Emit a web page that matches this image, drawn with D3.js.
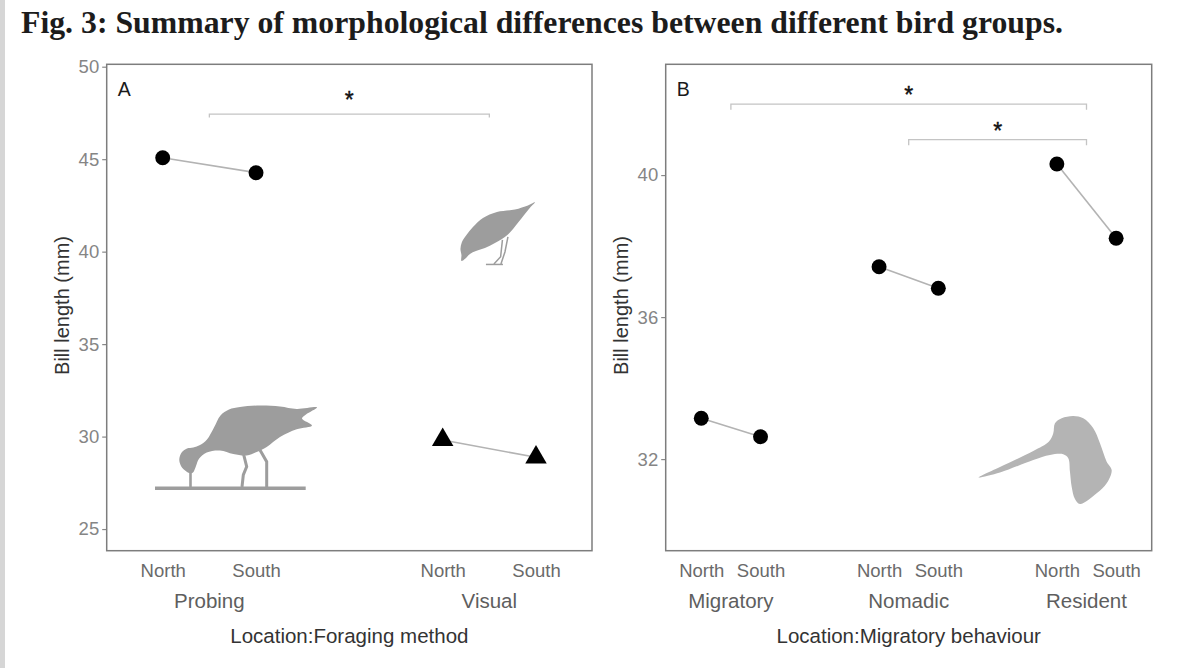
<!DOCTYPE html>
<html><head><meta charset="utf-8">
<script src="https://cdn.jsdelivr.net/npm/d3@7"></script>
<style>body{margin:0;background:#fff;} svg{display:block;}</style>
</head><body>
<svg id="chart" width="1200" height="668"></svg>
<script>
// ---------------- data ----------------
const titleText = "Fig. 3: Summary of morphological differences between different bird groups.";
const locations = ["North", "South"];

const foragingGroups = ["Probing", "Visual"];
const probingValues = [45.08, 44.27];
const visualValues = [29.82, 28.88];
const yTicksA = [25, 30, 35, 40, 45, 50];

const migratoryGroups = ["Migratory", "Nomadic", "Resident"];
const migratoryValues = [33.15, 32.63];
const nomadicValues = [37.42, 36.81];
const residentValues = [40.31, 38.22];
const yTicksB = [32, 36, 40];

// significance brackets: group index from -> to, bracket level, star level, tip drop
const sigA = [{from: 0, to: 1, level: 47.44, star: 48.47, tip: 0.18}];
const sigB = [
  {from: 0, to: 2, level: 42.0, star: 42.4, tip: 0.16},
  {from: 1, to: 2, level: 41.0, star: 41.38, tip: 0.16}
];

// ---------------- drawing ----------------
const svg = d3.select("#chart");
svg.append("rect").attr("x", 0).attr("y", 0).attr("width", 1200).attr("height", 668).attr("fill", "#fff");
svg.append("rect").attr("x", 0).attr("y", 0).attr("width", 5).attr("height", 668).attr("fill", "#d6d6d6");

svg.append("text")
  .attr("x", 21).attr("y", 33)
  .attr("font-family", "'Liberation Serif', 'DejaVu Serif', serif")
  .attr("font-weight", "bold").attr("font-size", 31)
  .attr("fill", "#1c1c1c")
  .attr("textLength", 1042).attr("lengthAdjust", "spacingAndGlyphs")
  .text(titleText);

const FONT = "'Liberation Sans', Arial, sans-serif";
const pos = (gi, li) => gi * 3 + li + 1;

function drawPanel(cfg) {
  const x = d3.scaleLinear().domain([0.4, cfg.groups.length * 3 - 0.4]).range([cfg.left, cfg.right]);
  const y = d3.scaleLinear().domain(cfg.yDomain).range([cfg.bottom, cfg.top]);
  const g = svg.append("g");

  // y axis ticks & labels
  const yAxis = d3.axisLeft(y).tickValues(cfg.yTicks).tickSize(4.5).tickPadding(3).tickFormat(d3.format("d"));
  const ya = g.append("g").attr("transform", `translate(${cfg.left},0)`).call(yAxis);
  ya.select(".domain").remove();
  ya.selectAll(".tick line").attr("stroke", "#888").attr("stroke-width", 1.2);
  ya.selectAll(".tick text").attr("font-family", FONT).attr("font-size", 18.5).attr("fill", "#858585");

  // x tick labels (locations)
  const ticks = [];
  cfg.groups.forEach((gr, gi) => locations.forEach((loc, li) => ticks.push({p: pos(gi, li), loc})));
  const xAxis = d3.axisBottom(x).tickValues(ticks.map(t => t.p)).tickSize(0).tickPadding(10)
    .tickFormat((d, i) => ticks[i].loc);
  const xa = g.append("g").attr("transform", `translate(0,${cfg.bottom})`).call(xAxis);
  xa.select(".domain").remove();
  xa.selectAll(".tick text").attr("font-family", FONT).attr("font-size", 18.5).attr("fill", "#6a6a6a")
    .attr("dy", null).attr("y", 26);

  // group labels
  g.selectAll(".grp").data(cfg.groups).enter().append("text")
    .attr("x", (d, i) => x(pos(i, 0.5)))
    .attr("y", cfg.bottom + 57.5)
    .attr("text-anchor", "middle")
    .attr("font-family", FONT).attr("font-size", 20.5).attr("fill", "#5e5e5e")
    .text(d => d);

  // axis titles
  g.append("text").attr("x", (cfg.left + cfg.right) / 2).attr("y", cfg.bottom + 92.5)
    .attr("text-anchor", "middle").attr("font-family", FONT).attr("font-size", 20.5).attr("fill", "#333")
    .text(cfg.xTitle);
  g.append("text")
    .attr("transform", `translate(${cfg.left - 38},${(cfg.top + cfg.bottom) / 2 - 2}) rotate(-90)`)
    .attr("text-anchor", "middle").attr("font-family", FONT).attr("font-size", 20).attr("fill", "#333")
    .text("Bill length (mm)");

  // silhouettes (decoration)
  if (cfg.decor) cfg.decor(g, x, y);

  // significance brackets
  cfg.sig.forEach(s => {
    const x1 = x(pos(s.from, 0.5)), x2 = x(pos(s.to, 0.5));
    g.append("path")
      .attr("d", `M${x1},${y(s.level - s.tip)}V${y(s.level)}H${x2}V${y(s.level - s.tip)}`)
      .attr("fill", "none").attr("stroke", "#c4c4c4").attr("stroke-width", 1.3);
    g.append("text").attr("x", (x1 + x2) / 2).attr("y", y(s.star) + 13)
      .attr("text-anchor", "middle").attr("font-family", FONT).attr("font-size", 23)
      .attr("fill", "#111").attr("stroke", "#111").attr("stroke-width", 0.4)
      .text("*");
  });

  // connecting lines and points
  cfg.values.forEach((vals, gi) => {
    const pts = vals.map((v, li) => [x(pos(gi, li)), y(v)]);
    g.append("path").attr("d", d3.line()(pts)).attr("stroke", "#b3b3b3").attr("stroke-width", 1.6).attr("fill", "none");
    const shape = cfg.shapes[gi];
    g.selectAll(null).data(pts).enter().append("path")
      .attr("transform", d => `translate(${d[0]},${d[1]})`)
      .attr("d", shape === "triangle" ? d3.symbol(d3.symbolTriangle, 200)() : d3.symbol(d3.symbolCircle, 175)())
      .attr("fill", "#000");
  });

  // panel border
  g.append("rect").attr("x", cfg.left).attr("y", cfg.top)
    .attr("width", cfg.right - cfg.left).attr("height", cfg.bottom - cfg.top)
    .attr("fill", "none").attr("stroke", "#7d7d7d").attr("stroke-width", 1.5);

  // panel letter
  g.append("text").attr("x", cfg.left + 11).attr("y", cfg.top + 32)
    .attr("font-family", FONT).attr("font-size", 19.5).attr("fill", "#1a1a1a").text(cfg.letter);
}

// silhouette helpers: outline points given in a local reference frame, placed via the panel's scales
const smooth = d3.line().curve(d3.curveCatmullRomClosed.alpha(0.5));
const open = d3.line();
function placed(g, x, y, anchor, ref) {
  return g.append("g").attr("transform", `translate(${x(anchor[0]) - ref[0]},${y(anchor[1]) - ref[1]})`);
}

function decorA(g, x, y) {
  const grey = "#9d9d9d";
  // probing bird
  const b = placed(g, x, y, [1, 27.2], [162.7, 488.4]);
  const body = [[191.7,473.3],[186.7,471.7],[181,466],[179.3,459],[182,452],[187,448.5],[193.3,447.5],[200,445],[207,439.5],[214,427.5],[220.5,415.5],[229,409.5],[240,407],[260,405.5],[280,406.5],[296.7,409],[317,407.5],[306,414.5],[302,418.5],[312,425.5],[296.7,429.3],[280,437],[266.7,447],[256.7,452],[246.7,455.5],[233.3,454],[220,450.5],[206.7,452.5],[199,458.8],[196,466],[193.5,472]];
  b.append("path").attr("d", smooth(body)).attr("fill", grey);
  b.append("path").attr("d", open([[190.5,471],[190.5,487]])).attr("stroke", grey).attr("stroke-width", 2.6).attr("fill", "none");
  b.append("path").attr("d", open([[243,452],[246.7,466.7],[243.3,475],[242,487]])).attr("stroke", grey).attr("stroke-width", 3).attr("fill", "none");
  b.append("path").attr("d", open([[260,450],[266.7,461.7],[266.7,487]])).attr("stroke", grey).attr("stroke-width", 3).attr("fill", "none");
  b.append("path").attr("d", open([[155,488.3],[305.7,488.3]])).attr("stroke", grey).attr("stroke-width", 3.6).attr("fill", "none");

  // visual (pecking) bird
  const s = placed(g, x, y, [4.5, 40], [489.4, 251.7]);
  const sb = [[535,202.3],[528,205.5],[515,209.5],[497,212],[483,218],[473,227],[466.5,235],[462,242],[460.5,249],[461.5,255],[461.5,261],[465.5,258.5],[470,254],[476,251],[485,248],[495,243],[508,234.5],[518.6,222],[529,209]];
  s.append("path").attr("d", smooth(sb)).attr("fill", grey);
  s.append("path").attr("d", open([[502.5,240],[500.7,256.7],[494,264]])).attr("stroke", grey).attr("stroke-width", 1.5).attr("fill", "none");
  s.append("path").attr("d", open([[508,237],[505,252],[501,264]])).attr("stroke", grey).attr("stroke-width", 1.5).attr("fill", "none");
  s.append("path").attr("d", open([[486,264.5],[503,264.5]])).attr("stroke", grey).attr("stroke-width", 1.5).attr("fill", "none");
}

function decorB(g, x, y) {
  const h = placed(g, x, y, [7, 32], [1056.9, 459.1]);
  const head = [[978.6,477.5],[1000,467],[1033.3,451],[1049,441.5],[1053.3,433.3],[1055,423.3],[1061.7,418.3],[1073.3,416],[1083.3,418.3],[1093.3,428.3],[1100,443.3],[1106.7,461.7],[1111.7,470],[1106.7,483.3],[1096.7,493.3],[1080,504],[1075,499],[1071.7,486.7],[1070,471.7],[1068.3,458.3],[1063.3,454.3],[1050,455],[1033.3,460],[1000,472.5]];
  h.append("path").attr("d", smooth(head)).attr("fill", "#b4b4b4");
}

drawPanel({
  left: 106.7, right: 592, top: 64.3, bottom: 550.7,
  yDomain: [23.83, 50.13], yTicks: yTicksA,
  groups: foragingGroups, values: [probingValues, visualValues], shapes: ["circle", "triangle"],
  letter: "A", xTitle: "Location:Foraging method", sig: sigA, decor: decorA
});
drawPanel({
  left: 665.7, right: 1151.7, top: 64.3, bottom: 550.7,
  yDomain: [29.42, 43.12], yTicks: yTicksB,
  groups: migratoryGroups, values: [migratoryValues, nomadicValues, residentValues],
  shapes: ["circle", "circle", "circle"],
  letter: "B", xTitle: "Location:Migratory behaviour", sig: sigB, decor: decorB
});
</script>
</body></html>
